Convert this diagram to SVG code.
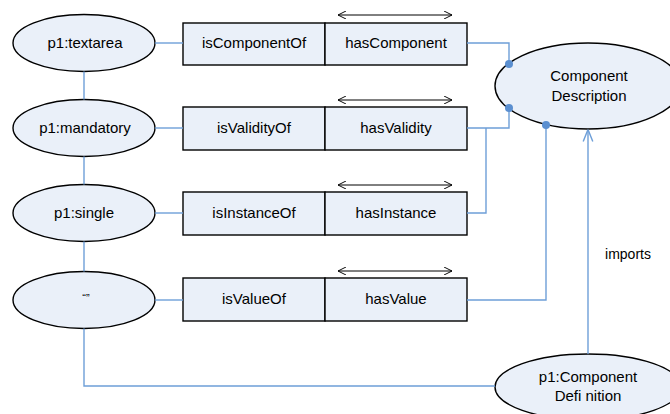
<svg xmlns="http://www.w3.org/2000/svg" width="670" height="414" viewBox="0 0 670 414">
<defs>
<style>
.node{fill:#eaf0f9;stroke:#000;stroke-width:1.4}
.t{font-family:"Liberation Sans",Arial,sans-serif;font-size:15px;fill:#000;text-anchor:middle}
.c{fill:none;stroke:#6e9fd8;stroke-width:1.4}
.dbl{fill:none;stroke:#000;stroke-width:1}
.dot{fill:#5b8fd0}
</style>
<marker id="oa" viewBox="0 0 10 10" refX="10" refY="5" markerWidth="8" markerHeight="8" orient="auto-start-reverse" markerUnits="userSpaceOnUse">
<path d="M0,0 L10,5 L0,10" fill="none" stroke="#000" stroke-width="1.2"/>
</marker>
<marker id="ob" viewBox="0 0 10 10" refX="10" refY="5" markerWidth="12" markerHeight="12" orient="auto" markerUnits="userSpaceOnUse">
<path d="M0,1 L10,5 L0,9" fill="none" stroke="#6e9fd8" stroke-width="1.2"/>
</marker>
</defs>
<rect width="670" height="414" fill="#fff"/>
<g id="textarea"><ellipse class="node" cx="84" cy="43" rx="71" ry="28.5"/><text class="t" x="85" y="48">p1:textarea</text></g>
<g id="mandatory"><ellipse class="node" cx="84" cy="128" rx="71" ry="28.5"/><text class="t" x="85" y="133">p1:mandatory</text></g>
<g id="single"><ellipse class="node" cx="84" cy="213" rx="71" ry="28.5"/><text class="t" x="84" y="218">p1:single</text></g>
<g id="empty"><ellipse class="node" cx="84" cy="300" rx="71" ry="28.5"/><text class="t" x="86" y="302" style="font-size:11px">“”</text></g>
<g id="rel1"><rect class="node" x="183" y="23" width="142" height="42"/><rect class="node" x="325" y="23" width="142" height="42"/><text class="t" x="254" y="48">isComponentOf</text><text class="t" x="396" y="48">hasComponent</text></g>
<g id="rel2"><rect class="node" x="183" y="107" width="142" height="43"/><rect class="node" x="325" y="107" width="142" height="43"/><text class="t" x="254" y="133">isValidityOf</text><text class="t" x="396" y="133">hasValidity</text></g>
<g id="rel3"><rect class="node" x="183" y="192" width="142" height="43"/><rect class="node" x="325" y="192" width="142" height="43"/><text class="t" x="254" y="218">isInstanceOf</text><text class="t" x="396" y="218">hasInstance</text></g>
<g id="rel4"><rect class="node" x="183" y="278" width="142" height="43"/><rect class="node" x="325" y="278" width="142" height="43"/><text class="t" x="254" y="304">isValueOf</text><text class="t" x="396" y="304">hasValue</text></g>
<g id="compdesc"><ellipse class="node" cx="588" cy="86" rx="93" ry="43"/><text class="t" x="589" y="81">Component</text><text class="t" x="589" y="101">Description</text></g>
<g id="compdef"><ellipse class="node" cx="588" cy="387" rx="93" ry="33"/><text class="t" x="588" y="382">p1:Component</text><text class="t" x="588" y="401">Defi nition</text></g>
<g id="connectors">
<path class="c" d="M155,43 H183"/>
<path class="c" d="M155,128 H183"/>
<path class="c" d="M155,213 H183"/>
<path class="c" d="M155,300 H183"/>
<path class="c" d="M84,71.5 V99.5"/>
<path class="c" d="M84,156.5 V184.5"/>
<path class="c" d="M84,241.5 V271.5"/>
<path class="c" d="M84,328.5 V386 H495"/>
<path class="c" d="M467,43 H509 V64"/>
<path class="c" d="M467,128 H509 V108"/>
<path class="c" d="M467,213 H486 V128"/>
<path class="c" d="M467,300 H546 V125"/>
<path class="c" d="M588,354 V129.5" marker-end="url(#ob)"/>
<circle class="dot" cx="509" cy="64" r="4"/>
<circle class="dot" cx="509" cy="108" r="4"/>
<circle class="dot" cx="546" cy="125" r="4"/>
<text class="t" x="628" y="259" style="font-size:14px">imports</text>
<path class="dbl" d="M338,15 H452" marker-start="url(#oa)" marker-end="url(#oa)"/>
<path class="dbl" d="M338,100 H452" marker-start="url(#oa)" marker-end="url(#oa)"/>
<path class="dbl" d="M338,185 H452" marker-start="url(#oa)" marker-end="url(#oa)"/>
<path class="dbl" d="M338,271 H452" marker-start="url(#oa)" marker-end="url(#oa)"/>
</g>
</svg>
